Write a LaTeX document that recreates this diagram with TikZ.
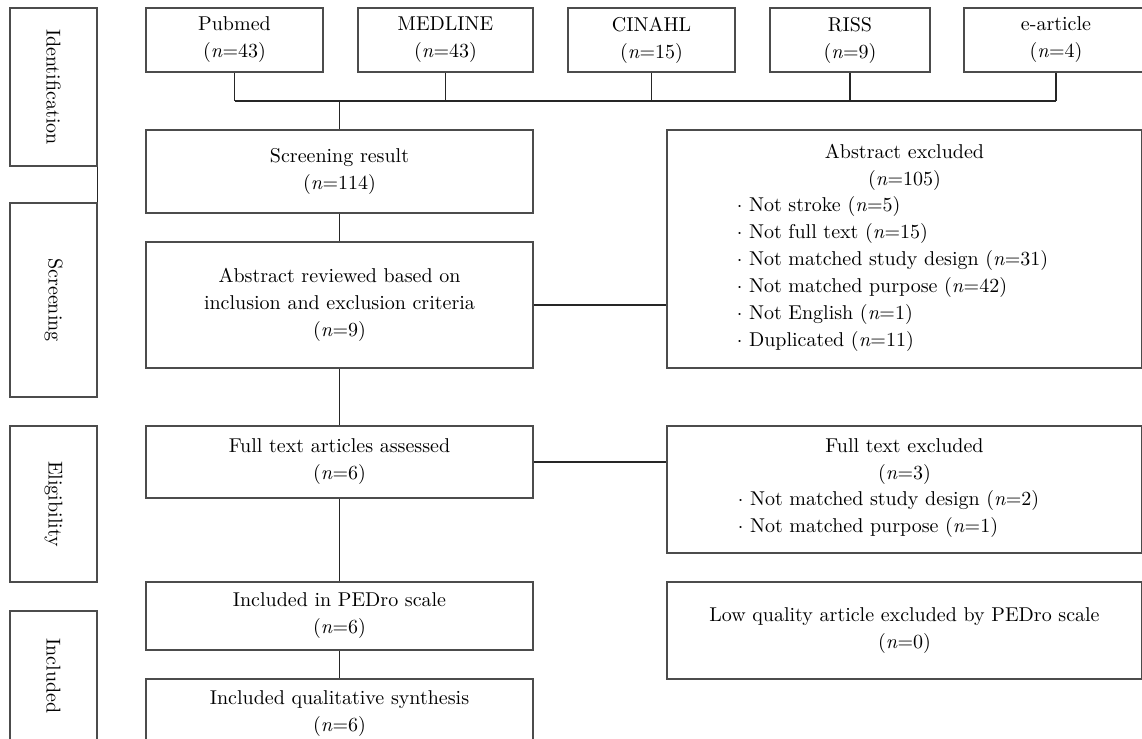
\documentclass[tikz,border=0pt]{standalone}
\usepackage{graphicx}
\usepackage{tikz}

\newcommand{\nval}[1]{(\textit{n}=#1)}

\begin{document}
\begin{tikzpicture}[x=0.5pt, y=-0.5pt,
    font=\fontsize{10}{13.5}\selectfont,
    box/.style={draw=black!70, line width=0.65pt, align=center, inner sep=0pt},
    stage/.style={box, minimum width=43.5pt},
    src/.style={box, minimum height=32pt},
    flow/.style={box, minimum width=193.5pt},
    excl/.style={box, minimum width=237.5pt},
    link/.style={draw=black!85, line width=0.6pt}]
  \useasboundingbox (0,0) rectangle (1142,739);
  \clip (0,0) rectangle (1142,739);

  % stage labels
  \node[stage, minimum height=79pt] (ident) at (53.5,87) {\rotatebox{-90}{Identification}};
  \node[stage, minimum height=97pt] (screen) at (53.5,300) {\rotatebox{-90}{Screening}};
  \node[stage, minimum height=78pt] (elig) at (53.5,504) {\rotatebox{-90}{Eligibility}};
  \node[stage, minimum height=65pt] (incl) at (53.5,676) {\rotatebox{-90}{Included}};
  \draw[link] (ident.south east) -- (screen.north east);

  % databases
  \foreach \nm/\cx/\bw/\db/\cnt in {pubmed/234.5/88.5/Pubmed/43, medline/445.5/87.5/MEDLINE/43,
      cinahl/651.5/83.5/CINAHL/15, riss/850/80/RISS/9, earticle/1056/92/e-article/4}
    \node[src, minimum width=\bw pt] (\nm) at (\cx,40) {\db\\\nval{\cnt}};

  \node[flow, minimum height=41.5pt] (scr) at (339.5,171.5) {Screening result\\\nval{114}};
  \node[flow, minimum height=63pt] (abs) at (339.5,305)
    {Abstract reviewed based on\\inclusion and exclusion criteria\\\nval{9}};
  \node[flow, minimum height=36pt] (full) at (339.5,462) {Full text articles assessed\\\nval{6}};
  \node[flow, minimum height=34pt] (pedro) at (339.5,616) {Included in PEDro scale\\\nval{6}};
  \node[flow, minimum height=35pt] (qual) at (339.5,714) {Included qualitative synthesis\\\nval{6}};

  \node[excl, minimum height=119pt] (absx) at (904.5,249)
    {Abstract excluded\\\nval{105}\\
     \begin{tabular}{@{}l@{\hspace{12pt}}}
       $\cdot$\ Not stroke \nval{5}\\
       $\cdot$\ Not full text \nval{15}\\
       $\cdot$\ Not matched study design \nval{31}\\
       $\cdot$\ Not matched purpose \nval{42}\\
       $\cdot$\ Not English \nval{1}\\
       $\cdot$\ Duplicated \nval{11}
     \end{tabular}};
  \node[excl, minimum height=63.5pt] (fullx) at (904.5,489.5)
    {Full text excluded\\\nval{3}\\
     \begin{tabular}{@{}l@{\hspace{16pt}}}
       $\cdot$\ Not matched study design \nval{2}\\
       $\cdot$\ Not matched purpose \nval{1}
     \end{tabular}};
  \node[excl, minimum height=48.5pt] (lowx) at (904.5,630.5)
    {Low quality article excluded by PEDro scale\\\nval{0}};

  % connectors
  \coordinate (bus) at (339.5,101);
  \foreach \nm in {pubmed,medline,cinahl,riss,earticle}
    \draw[link] (\nm.south) -- (\nm.south |- bus);
  \draw[link] (pubmed.south |- bus) -- (earticle.south |- bus);
  \draw[link] (bus) -- (scr.north);
  \draw[link] (scr) -- (abs);
  \draw[link] (abs) -- (full);
  \draw[link] (full) -- (pedro);
  \draw[link] (pedro) -- (qual);
  \draw[link] (abs.east) -- (abs.east -| absx.west);
  \draw[link] (full.east) -- (full.east -| fullx.west);
\end{tikzpicture}
\end{document}
